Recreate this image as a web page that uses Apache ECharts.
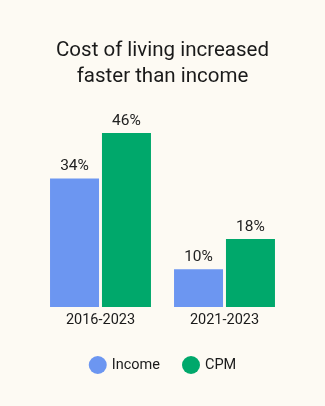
<!DOCTYPE html>
<html>
<head>
<meta charset="utf-8">
<script src="https://cdn.jsdelivr.net/npm/echarts@6/dist/echarts.min.js"></script>
<style>
html,body{margin:0;padding:0;background:#FDFAF3;}
#c{width:325px;height:406px;}
</style>
</head>
<body>
<div id="c"></div>
<script>
const categories = ['2016-2023', '2021-2023'];
const incomeValues = [34, 10];
const cpmValues = [46, 18];
const seriesNames = ['Income', 'CPM'];
const titleText = 'Cost of living increased\nfaster than income';

const FONT = 'Roboto, "Noto Sans", sans-serif';
const chart = echarts.init(document.getElementById('c'), null, {renderer: 'canvas'});
const labelCfg = {
  show: true, position: 'top', distance: 4,
  formatter: p => p.value + '%',
  color: '#222', fontSize: 15.5, fontFamily: FONT
};
chart.setOption({
  backgroundColor: '#FDFAF3',
  animation: false,
  title: {
    text: titleText, left: 'center', top: 33,
    textStyle: {fontFamily: FONT, fontSize: 20.5, fontWeight: 'normal', color: '#1a1a1a', lineHeight: 26}
  },
  legend: {
    data: seriesNames, bottom: 27, left: 'center', icon: 'circle',
    itemWidth: 18, itemHeight: 18, itemGap: 22,
    textStyle: {fontFamily: FONT, fontSize: 14.5, color: '#1a1a1a'}
  },
  grid: {left: 38.5, right: 38.5, top: 118, bottom: 99, containLabel: false},
  xAxis: {
    type: 'category', data: categories,
    axisLine: {show: false}, axisTick: {show: false},
    axisLabel: {fontFamily: FONT, fontSize: 14.5, color: '#1a1a1a', margin: 6}
  },
  yAxis: {type: 'value', min: 0, max: 50, show: false, splitLine: {show: false}},
  series: [
    {name: seriesNames[0], type: 'bar', data: incomeValues, barWidth: 49, barGap: '6%',
     itemStyle: {color: '#6C96F1'}, label: labelCfg},
    {name: seriesNames[1], type: 'bar', data: cpmValues, barWidth: 49,
     itemStyle: {color: '#00A86B'}, label: labelCfg}
  ]
});
</script>
</body>
</html>
